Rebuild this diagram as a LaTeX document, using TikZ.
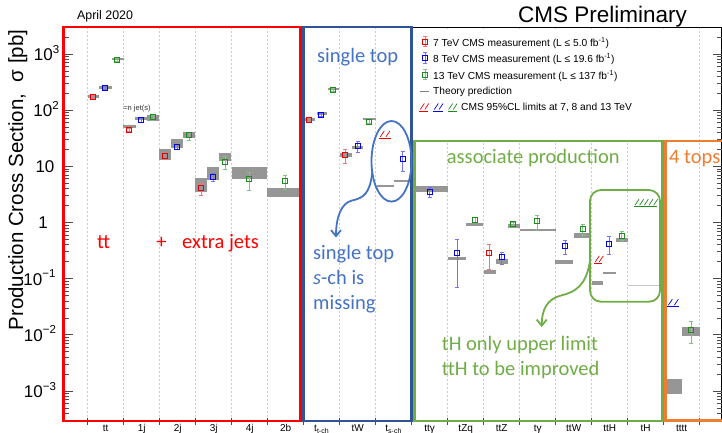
\documentclass[tikz,border=0pt]{standalone}
\usepackage{fontspec}
\setmainfont{Liberation Sans}
\newfontfamily\calfont{Carlito}
\usetikzlibrary{arrows.meta}
\definecolor{cmsred}{RGB}{235,0,0}
\definecolor{cmsblue}{RGB}{0,0,235}
\definecolor{cmsgreen}{RGB}{30,140,30}
\definecolor{fred}{RGB}{255,0,0}
\definecolor{fblue}{RGB}{47,85,151}
\definecolor{tblue}{RGB}{68,114,196}
\definecolor{fgreen}{RGB}{112,173,71}
\definecolor{forange}{RGB}{237,125,49}
\definecolor{thgray}{RGB}{150,150,150}
\newcommand{\datapt}[5]{%
  \draw[#1!55!white, line width=0.9pt] (#2,#4) -- (#2,#5) (#2-2,#4) -- (#2+2,#4) (#2-2,#5) -- (#2+2,#5);
  \draw[#1, line width=1pt] (#2-2.6,#3-2.6) rectangle (#2+2.6,#3+2.6);}
\newcommand{\thbar}[4]{\fill[thgray] (#1,#2) rectangle (#3,#4);}
\newcommand{\limitmark}[5]{%
  \draw[#1, line width=1pt] (#2,#4) -- (#3,#4);
  \foreach \i in {1,...,#5}{\draw[#1, line width=0.7pt] ({#2+1+(\i-1)*(#3-#2)/#5},{#4-1.5}) -- ++(4,-6);}}
\newcommand{\expo}[1]{\raisebox{0.42em}{\fontsize{11.5}{12}\selectfont #1}}
\begin{document}
\begin{tikzpicture}[x=1pt,y=-1pt,
  grid/.style={gray!40, dash pattern=on 2pt off 2pt, line width=0.6pt},
  axtick/.style={black!70, line width=0.8pt},
  frame/.style={line width=2.7pt},
  ann/.style={font=\calfont\fontsize{20.5}{24}\selectfont, inner sep=0pt, anchor=base west},
  leg/.style={font=\fontsize{10.2}{12}\selectfont, inner sep=0pt, anchor=base west},
  ticklab/.style={font=\fontsize{17}{20}\selectfont, inner sep=0pt, anchor=base},
  binlab/.style={font=\fontsize{10}{12}\selectfont, inner sep=0pt, anchor=base},
  callout/.style={line width=1.8pt, -{Straight Barb[length=6pt,width=10pt]}}]
\useasboundingbox (0,0) rectangle (722,432);
\clip (0,0) rectangle (722,432);
\fill[white] (0,0) rectangle (722,432);
% grid lines
\foreach \k in {0,...,17}{
  \draw[grid] ({87.7+36*\k},27) -- ({87.7+36*\k},421);
  \draw[axtick] ({87.7+36*\k},418) -- ++(0,7);
}
% legend background
\fill[white] (413,28.5) rectangle (698,139.5);
% axes frame
\draw[black, line width=0.8pt] (63.5,27) rectangle (721.5,421);
\foreach \L in {-4,...,3}{
  \foreach \m in {1,...,9}{
    \pgfmathsetmacro\yy{222.5-56.17*(\L+log10(\m))}
    \pgfmathsetmacro\tl{ifthenelse(\m==1,9,5)}
    \ifdim \yy pt<420.5pt \ifdim \yy pt>27.5pt
      \draw[axtick] (63.5,\yy) -- ++(\tl,0);
      \draw[axtick] (721.5,\yy) -- ++(-\tl,0);
    \fi\fi
  }}
% y tick labels
\node[ticklab] (l3) at (46.5,60.3) {10\expo{3}};
\node[ticklab] (l2) at (46,116.5) {10\expo{2}};
\node[ticklab] (l1) at (45,172.6) {10};
\node[ticklab] (l0) at (43,228.8) {1};
\node[ticklab] (lm1) at (39.5,285) {10\expo{−1}};
\node[ticklab] (lm2) at (40,341.1) {10\expo{−2}};
\node[ticklab] (lm3) at (40,397.3) {10\expo{−3}};
% y title
\node[rotate=90, anchor=base, inner sep=0pt, font=\fontsize{20.5}{24}\selectfont] (ytitle) at (23,180) {Production Cross Section,\ \ σ [pb]};
% bin labels
\foreach \k/\lab in {0/tt,1/1j,2/2j,3/3j,4/4j,5/2b,7/tW,9/ttγ,10/tZq,11/ttZ,12/tγ,13/ttW,14/ttH,15/tH,16/tttt}{
  \node[binlab] (bin\k) at ({105.7+36*\k},431.5) {\lab};
}
\node[binlab] (bin6) at (321.7,431.5) {t\textsubscript{t-ch}};
\node[binlab] (bin8) at (393.7,431.5) {t\textsubscript{s-ch}};
% ---- data ----
% tt
\thbar{88}{95}{99.3}{98.3}
\thbar{99.3}{86.3}{111.7}{89.3}
\thbar{111.7}{57.5}{124}{60.3}
\datapt{cmsred}{93.3}{96.7}{95.2}{98.2}
\datapt{cmsblue}{105.3}{88.3}{86.8}{89.8}
\datapt{cmsgreen}{117.3}{60}{58.5}{61.5}
% 1j
\thbar{123.3}{125.3}{135.7}{128.3}
\thbar{135}{116.5}{147}{119.8}
\thbar{147}{115.3}{159}{121}
\datapt{cmsred}{129.3}{130}{128.3}{131.7}
\datapt{cmsblue}{141.3}{120.3}{118.5}{122}
\datapt{cmsgreen}{153.3}{117.3}{115}{120}
\node[font=\fontsize{7.5}{9}\selectfont, text=black!80, inner sep=0pt] (njet) at (137,108.5) {=n jet(s)};
% 2j
\thbar{159.3}{149}{171.3}{160}
\thbar{171.3}{139.3}{183.3}{148.3}
\thbar{183.3}{131.7}{195.3}{138.3}
\datapt{cmsred}{165.3}{155.7}{153.8}{157.6}
\datapt{cmsblue}{177.3}{146.7}{144.5}{149}
\datapt{cmsgreen}{189.3}{135}{132}{140.7}
% 3j
\thbar{195.3}{178.3}{207.3}{191.7}
\thbar{207.3}{167.3}{219.3}{180}
\thbar{219.3}{152.7}{231.3}{160.7}
\datapt{cmsred}{201.3}{188.3}{183.3}{195.7}
\datapt{cmsblue}{213.3}{177.3}{173.3}{181.7}
\datapt{cmsgreen}{225.3}{161.7}{156}{169}
% 4j
\thbar{231.7}{166.7}{267.3}{179}
\datapt{cmsgreen}{249.3}{179.3}{172.3}{190.7}
% 2b
\thbar{267.3}{188.3}{302}{196.7}
\datapt{cmsgreen}{285.3}{181}{175.3}{189.3}
% t-ch
\thbar{305}{118}{315}{120.5}
\thbar{316.7}{112.3}{327.3}{114.8}
\thbar{328}{87.8}{339.3}{90.3}
\datapt{cmsred}{309.3}{120}{118.5}{121.5}
\datapt{cmsblue}{321.3}{114.7}{113.2}{116.2}
\datapt{cmsgreen}{333}{90}{88.5}{91.5}
% tW
\thbar{340}{153.3}{351.7}{156.7}
\thbar{351.7}{146}{363.3}{148.7}
\thbar{363.3}{117.8}{375.7}{120.3}
\datapt{cmsred}{345.3}{155}{149.3}{163.3}
\datapt{cmsblue}{357.7}{146}{141}{152.7}
\datapt{cmsgreen}{369.3}{121.7}{119.7}{123.7}
% s-ch
\draw[thgray, line width=1.8pt] (377.3,185.7) -- (394,185.7);
\draw[thgray, line width=1.8pt] (394,180.7) -- (411,180.7);
\limitmark{cmsred}{379.3}{390.7}{138.3}{2}
\datapt{cmsblue}{402.7}{159}{151.7}{171}
% tt gamma
\thbar{413}{186}{447.7}{191.7}
\datapt{cmsblue}{429.7}{192.3}{187.7}{197.7}
% tZq
\thbar{447.7}{256.8}{465.7}{259.6}
\thbar{465.7}{223.2}{483.3}{225.6}
\datapt{cmsblue}{457}{253.3}{239.3}{287.3}
\datapt{cmsgreen}{475}{220}{217.7}{222.7}
% ttZ
\thbar{484}{269.7}{495.7}{274}
\thbar{496}{259.3}{507.7}{263.7}
\thbar{507.7}{224}{520}{228.3}
\datapt{cmsred}{489.3}{253.3}{244.3}{269.3}
\datapt{cmsblue}{501.7}{257.3}{252.3}{264}
\datapt{cmsgreen}{513.3}{224}{222.2}{225.8}
% t gamma
\thbar{520}{228.8}{555.7}{231.4}
\datapt{cmsgreen}{537.3}{221.3}{215}{230}
% ttW
\thbar{555.3}{260}{573.3}{264.3}
\thbar{574}{232.7}{590}{238.3}
\datapt{cmsblue}{565}{246}{240.7}{254.3}
\datapt{cmsgreen}{582.7}{229}{224}{235}
% ttH
\limitmark{cmsred}{594.3}{602.3}{263.3}{2}
\thbar{591.7}{280.7}{603.3}{285}
\thbar{603.3}{271.7}{615.7}{274.3}
\thbar{615.7}{238.3}{628.3}{241.7}
\datapt{cmsblue}{609.3}{244}{236.7}{254}
\datapt{cmsgreen}{621.7}{236}{231.7}{240.7}
% tH
\limitmark{cmsgreen}{634}{657.3}{206.7}{5}
\draw[gray!45, line width=1.5pt] (628.3,285.7) -- (661.7,285.7);
% tttt
\limitmark{cmsblue}{667.3}{679.3}{306.7}{2}
\thbar{666.7}{379}{682}{394}
\thbar{682.3}{326.7}{700}{336}
\datapt{cmsgreen}{691}{330}{321.7}{343.3}
% ---- coloured frames ----
\draw[frame, fred] (63.5,27) rectangle (300.7,421);
\draw[frame, fblue] (303.7,27) rectangle (411.3,421);
\draw[frame, fgreen] (414.7,141) rectangle (662.8,421);
\draw[frame, forange] (665.5,141) rectangle (728,420.5);
% ---- legend ----
\datapt{cmsred}{425}{41.7}{36.5}{46.9}
\datapt{cmsblue}{425}{58}{52.8}{63.2}
\datapt{cmsgreen}{425}{74.7}{69.5}{79.9}
\draw[gray, line width=0.8pt] (420.3,91) -- (428.5,91);
\limitmark{cmsred}{419.3}{428.3}{111}{2}
\limitmark{cmsblue}{433.3}{442.7}{111}{2}
\limitmark{cmsgreen}{447.7}{456.7}{111}{2}
\node[leg] (lg1) at (433,46) {7 TeV CMS measurement (L ≤ 5.0 fb\textsuperscript{-1})};
\node[leg] (lg2) at (433,62.3) {8 TeV CMS measurement (L ≤ 19.6 fb\textsuperscript{-1})};
\node[leg] (lg3) at (433,79) {13 TeV CMS measurement (L ≤ 137 fb\textsuperscript{-1})};
\node[leg] (lg4) at (433,94.3) {Theory prediction};
\node[leg] (lg5) at (461,110) {CMS 95\%CL limits at 7, 8 and 13 TeV};
% titles
\node[font=\fontsize{12.4}{14}\selectfont, anchor=base west, inner sep=0pt] (date) at (77,19.5) {April 2020};
\node[font=\fontsize{22.5}{26}\selectfont, anchor=base west, inner sep=0pt] (cms) at (518,22.7) {CMS Preliminary};
% ---- annotations ----
\node[ann, fred] (ttlab) at (97,248) {tt};
\node[ann, fred, anchor=base] (plus) at (161.5,248) {+};
\node[ann, fred] (xjets) at (182,248) {extra jets};
\node[ann, tblue] (stop) at (317,62) {single top};
\node[ann, fgreen] (assoc) at (446.7,163.3) {associate production};
\node[ann, forange] (ftops) at (669,163.3) {4 tops};
\node[ann, tblue] (miss1) at (313,259.5) {single top};
\node[ann, tblue] (miss2) at (313,284.5) {\textit{s}-ch is};
\node[ann, tblue] (miss3) at (313,309.5) {missing};
\node[ann, fgreen] (up1) at (441.7,350.5) {tH only upper limit};
\node[ann, fgreen] (up2) at (441.7,375) {ttH to be improved};
% callouts
\draw[tblue, line width=1.8pt] (391.5,161.3) ellipse [x radius=20, y radius=40.3];
\coordinate (ea) at (372.3,172);
\coordinate (eb) at (336,237.5);
\draw[callout, tblue] (ea) .. controls (370,193) and (364,198) .. (352,200.5) .. controls (341,203) and (336,218) .. (eb);
\draw[fgreen, line width=1.8pt, rounded corners=11pt] (590,190) rectangle (660,301.7);
\coordinate (ga) at (589.8,262);
\coordinate (gb) at (541.7,327);
\draw[callout, fgreen] (ga) .. controls (586,285) and (576,292) .. (561,295.5) .. controls (547,299) and (541.7,310) .. (gb);
\end{tikzpicture}
\end{document}
